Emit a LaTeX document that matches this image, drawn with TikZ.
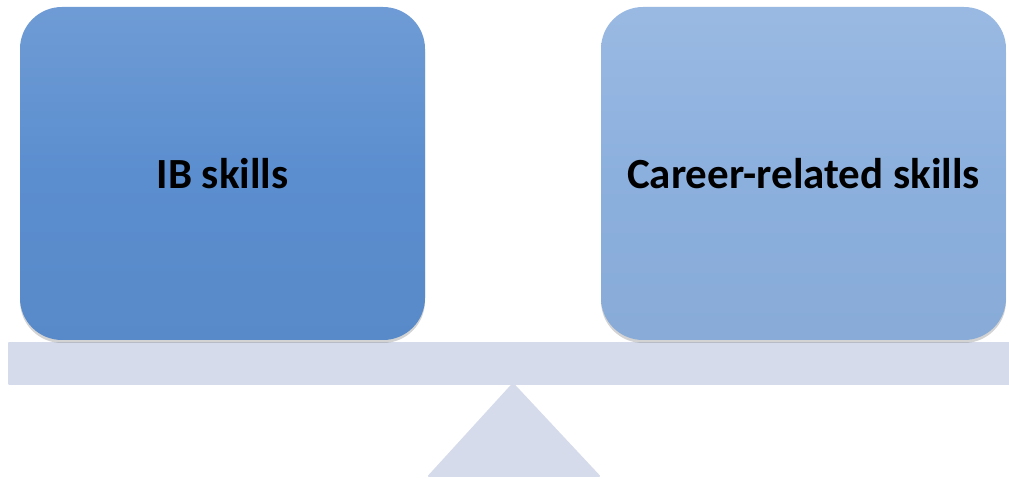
\documentclass[tikz,border=0pt]{standalone}
\usepackage{fontspec}
\setmainfont{Carlito}
\usetikzlibrary{shadows}
\definecolor{ibblue}{HTML}{5B8ECF}
\definecolor{crblue}{HTML}{8CB0DE}
\definecolor{beamgray}{HTML}{D5DBEA}
\begin{document}
\begin{tikzpicture}[x=1pt,y=1pt]
        \useasboundingbox (0,0) rectangle (1009,479);
        \begin{scope}
            \tikzset{pan/.style = {
                rounded corners=42pt,
                minimum width=405pt,
                minimum height=333pt,
                inner sep=0pt,
                font=\fontsize{43}{50}\selectfont\bfseries,
                drop shadow={shadow xshift=0pt, shadow yshift=-3pt, opacity=0.35} } }
            \tikzset{support/.style = {
                fill=beamgray,
                draw=beamgray,
                line width=2pt,
                line join=round} }
                % the beam and its pivot
                \node[support, minimum width=1000pt, minimum height=41pt, inner sep=0pt] (beam) at (508.5,115.5) {};
                \coordinate (apex) at (513,95);
                \coordinate (bl) at (429,3);
                \coordinate (br) at (599,3);
                \path[support] (apex)--(br)--(bl)--cycle;
                % the two pans
                \node[pan, top color=ibblue!88!white, bottom color=ibblue!97!black, middle color=ibblue] (ib) at (222.5,305.5) {IB skills};
                \node[pan, top color=crblue!88!white, bottom color=crblue!97!black, middle color=crblue] (cr) at (803.5,305.5) {Career-related skills};
        \end{scope}
    \end{tikzpicture}
\end{document}
